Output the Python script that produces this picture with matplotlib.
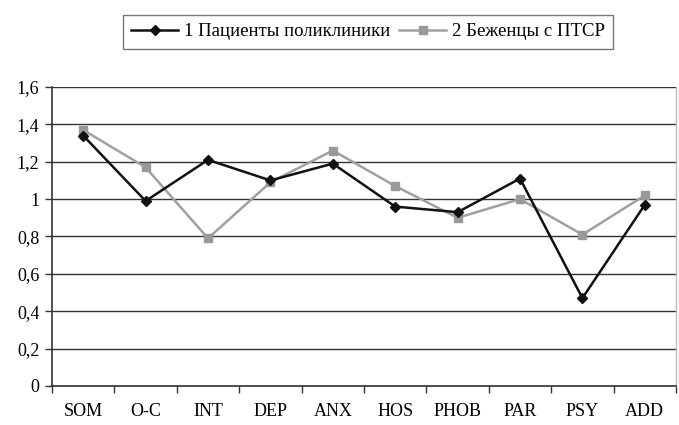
import matplotlib
matplotlib.use("Agg")
import matplotlib.pyplot as plt
import numpy as np

categories = ["SOM", "O-C", "INT", "DEP", "ANX", "HOS", "PHOB", "PAR", "PSY", "ADD"]
series1 = [1.34, 0.99, 1.21, 1.10, 1.19, 0.96, 0.93, 1.11, 0.47, 0.97]
series2 = [1.37, 1.17, 0.79, 1.09, 1.26, 1.07, 0.90, 1.00, 0.81, 1.02]
name1 = "1 Пациенты поликлиники"
name2 = "2 Беженцы с ПТСР"
yticks = [0, 0.2, 0.4, 0.6, 0.8, 1.0, 1.2, 1.4, 1.6]
ylabels = ["0", "0,2", "0,4", "0,6", "0,8", "1", "1,2", "1,4", "1,6"]

plt.rcParams['font.family'] = ['Liberation Serif', 'DejaVu Serif']

fig = plt.figure(figsize=(6.79, 4.25), dpi=100)
ax = fig.add_axes([0.0766, 0.0918, 0.9190, 0.7035])

x = np.arange(len(categories))
l1, = ax.plot(x, series1, color="#111111", lw=1.8, marker="D", ms=5.5, mfc="#111111", mec="#111111", zorder=4)
l2, = ax.plot(x, series2, color="#a0a0a0", lw=1.8, marker="s", ms=6, mfc="#999999", mec="#999999", zorder=3)

ax.set_xlim(-0.5, len(categories) - 0.5)
ax.set_ylim(0, 1.6)
ax.set_yticks(yticks)
ax.set_yticklabels(ylabels, fontsize=13)
ax.set_xticks(x)
ax.set_xticklabels(categories, fontsize=13)
ax.tick_params(axis='x', length=0, pad=12)
ax.set_xticks(np.arange(len(categories) + 1) - 0.5, minor=True)
ax.tick_params(axis='x', which='minor', length=5, width=1, color="#333333", direction='out')
ax.tick_params(axis='y', length=5, width=1, color="#333333", direction='out', pad=4)

ax.grid(axis='y', color="#333333", lw=1)
ax.set_axisbelow(True)
for s in ["left", "bottom"]:
    ax.spines[s].set_color("#333333")
    ax.spines[s].set_linewidth(1.2)
for s in ["right", "top"]:
    ax.spines[s].set_color("#bbbbbb")
    ax.spines[s].set_linewidth(1)
ax.spines["top"].set_visible(False)

fig.legend([l1, l2], [name1, name2], loc="center", bbox_to_anchor=(0.542, 0.925),
           ncol=2, fontsize=13.5, frameon=True, fancybox=False, edgecolor="#555555",
           handlelength=2.5, columnspacing=0.5, handletextpad=0.3, borderpad=0.45)

fig.savefig("out.png", dpi=100)
